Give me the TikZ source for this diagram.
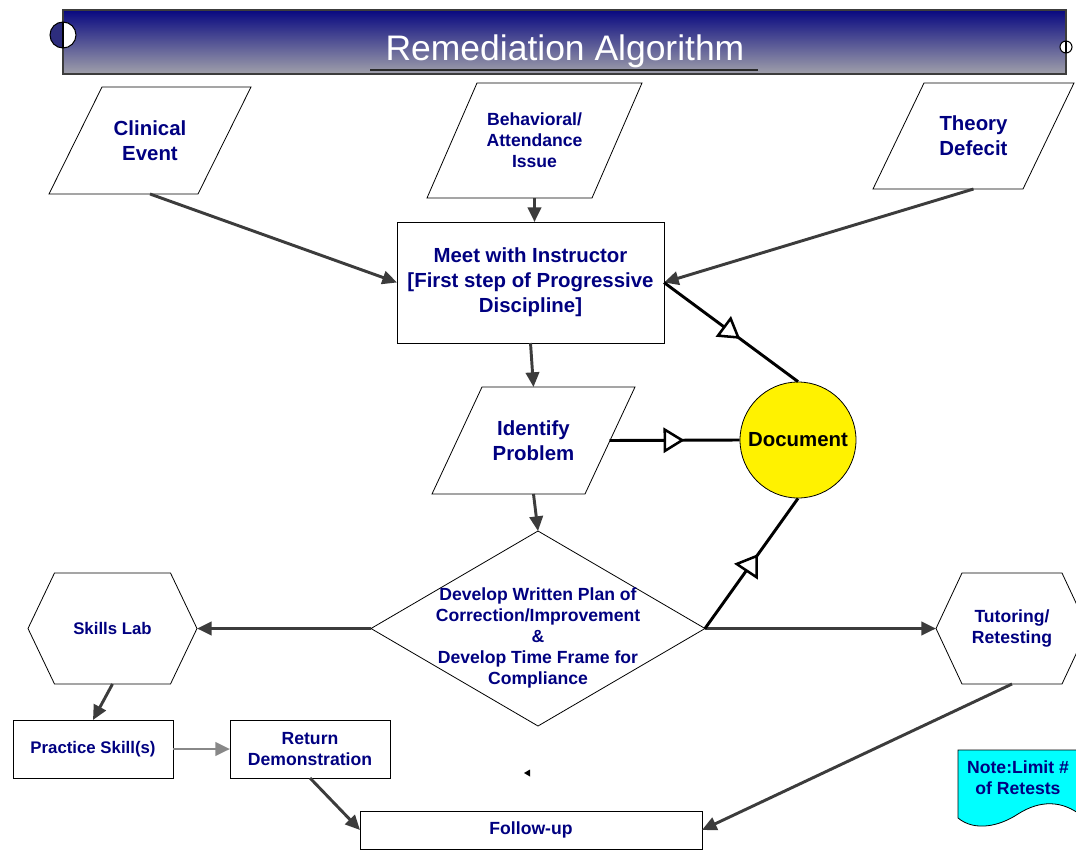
\documentclass[tikz,border=0pt]{standalone}
\usepackage{fontspec}
\setmainfont{Liberation Sans}
\usetikzlibrary{arrows.meta,calc,decorations.markings}
\definecolor{txtnavy}{RGB}{0,0,128}
\definecolor{conn}{RGB}{60,60,60}
\definecolor{gconn}{RGB}{136,136,136}
\definecolor{bartop}{RGB}{8,8,128}
\definecolor{barbot}{RGB}{160,160,170}
\definecolor{halfc}{RGB}{45,45,125}
\definecolor{notecyan}{RGB}{0,255,255}
\tikzset{
  bx/.style 2 args={rectangle, minimum width=#1*0.75pt, minimum height=#2*0.75pt, inner sep=0pt, outer sep=0pt, align=center, text=txtnavy},
  lblbig/.style={font=\bfseries\fontsize{15.3}{18.6}\selectfont},
  lblsmall/.style={font=\bfseries\fontsize{13.2}{15.6}\selectfont},
  lblsk/.style={font=\bfseries\fontsize{12.6}{15.6}\selectfont},
  outline/.style={draw=black, line width=0.6pt},
  flow/.style={draw=conn, line width=2.2pt, -{Triangle[length=11pt,width=10pt]}},
  gflow/.style={flow, draw=gconn},
  docline/.style={draw=black, line width=2.2pt},
  opentri/.style={postaction={decorate}, decoration={markings, mark=at position #1 with {\draw[black, line width=1.9pt, fill=white, line join=miter] (0pt,8pt) -- (13pt,0pt) -- (0pt,-8pt) -- cycle;}}}
}
\newcommand\paral[2]{\draw[outline] ($(#1.north west)+(#2,0)$) -- (#1.north east) -- ($(#1.south east)+(-#2,0)$) -- (#1.south west) -- cycle;}
\newcommand\hexa[2]{\draw[outline] (#1.west) -- ($(#1.north west)+(#2,0)$) -- ($(#1.north east)+(-#2,0)$) -- (#1.east) -- ($(#1.south east)+(-#2,0)$) -- ($(#1.south west)+(#2,0)$) -- cycle;}
\begin{document}
\begin{tikzpicture}[x=0.75pt,y=-0.75pt]
\useasboundingbox (0,0) rectangle (1076,850);

% title bar
\shade[top color=bartop, bottom color=barbot] (63,10) rectangle (1066,74);
\draw[draw={rgb,255:red,60;green,60;blue,60}, line width=0.8pt] (63,10) rectangle (1066,74);
\node[font=\fontsize{26.6}{30}\selectfont, text=white, anchor=base, inner sep=0] (title) at (565,60) {Remediation Algorithm};
\draw[draw={rgb,255:red,40;green,40;blue,40}, line width=1pt] (370,70) -- (758,70);
\begin{scope}
  \clip (45,15) rectangle (63,55);
  \fill[halfc] (63,35) circle[radius=9.75pt];
\end{scope}
\begin{scope}
  \clip (63,15) rectangle (80,55);
  \fill[white] (63,35) circle[radius=9.75pt];
\end{scope}
\draw[black, line width=0.8pt] (63,35) circle[radius=9.75pt];
\draw[black, line width=0.8pt] (63,22) -- (63,48);
\draw[black, line width=0.8pt, fill=white] (1066,47) circle[radius=4.5pt];
\draw[black, line width=0.8pt] (1066,41) -- (1066,53);

% nodes
\node[bx={202}{107}, lblbig] (ce) at (150,140.5) {Clinical\\Event};
\paral{ce}{53}
\node[bx={215}{115}, lblsmall] (beh) at (534.5,140.5) {Behavioral/\\Attendance\\Issue};
\paral{beh}{50}
\node[bx={201}{106}, lblbig] (td) at (973.5,136) {Theory\\Defecit};
\paral{td}{51}
\node[bx={267}{121}, outline, lblbig] (meet) at (530.5,282.5) {Meet with Instructor\\{}[First step of Progressive\\Discipline]};
\node[bx={203}{107}, lblbig] (ip) at (533.5,440.5) {Identify\\Problem};
\paral{ip}{50}
\coordinate (ipr) at ($(ip.east)+(-25.5,0)$);
\node[circle, draw=black, line width=0.6pt, fill=yellow, minimum size=116*0.75pt, inner sep=0pt, font=\bfseries\fontsize{15.3}{18}\selectfont] (doc) at (798,440) {Document};
\node[bx={334}{195}] (dia) at (538,628.5) {};
\draw[outline] (dia.north) -- (dia.east) -- (dia.south) -- (dia.west) -- cycle;
\node[align=center, text=txtnavy, inner sep=0pt, lblsmall] (diat) at (538,638) {Develop Written Plan of\\Correction/Improvement\\\&\\Develop Time Frame for\\Compliance};
\node[bx={169}{111}, lblsk] (sk) at (112.5,628.5) {Skills Lab};
\hexa{sk}{26.5}
\node[bx={152}{111}, lblsmall] (tu) at (1012,628.5) {Tutoring/\\Retesting};
\hexa{tu}{26}
\node[bx={160}{58}, outline, lblsk] (ps) at (93,749) {Practice Skill(s)};
\node[bx={160}{58}, outline, lblsmall] (rd) at (310,749) {Return\\Demonstration};
\node[bx={342}{38}, outline, lblsmall] (fu) at (531,830) {Follow-up};

% note
\draw[outline, fill=notecyan] (958,750) -- (1082,750) -- (1082,816) .. controls (1062,800) and (1040,800) .. (1018,814) .. controls (1000,826) and (975,832) .. (958,818) -- cycle;
\node[align=center, text=txtnavy, inner sep=0pt, lblsmall] (note) at (1018,778) {Note:Limit \#\\of Retests};

% stray arrowhead
\fill[black] (524,773) -- (530,769.5) -- (530,776.5) -- cycle;

% flow connectors
\draw[flow] (ce.south) -- (meet.west);
\draw[flow] (beh.south) -- (beh.south |- meet.north);
\draw[flow] (td.south) -- (meet.east);
\draw[flow] (meet.south) -- (ip.north);
\draw[flow] (ip.south) -- (dia.north);
\draw[flow] (dia.west) -- (sk.east);
\draw[flow] (dia.east) -- (tu.west);
\draw[flow] (sk.south) -- (ps.north);
\draw[gflow] (ps.east) -- (rd.west);
\draw[flow] (rd.south) -- (fu.west);
\draw[flow] (tu.south) -- (fu.east);

% document connectors
\draw[docline, opentri=0.45] (meet.east) -- (doc.north);
\draw[docline, opentri=0.425] (ipr) -- (doc.west);
\draw[docline] (dia.east) -- (doc.south);
\draw[black, line width=1.9pt, fill=white, line join=miter] (736.7,564) -- (756.7,556) -- (756.7,577.3) -- cycle;
\end{tikzpicture}
\end{document}
